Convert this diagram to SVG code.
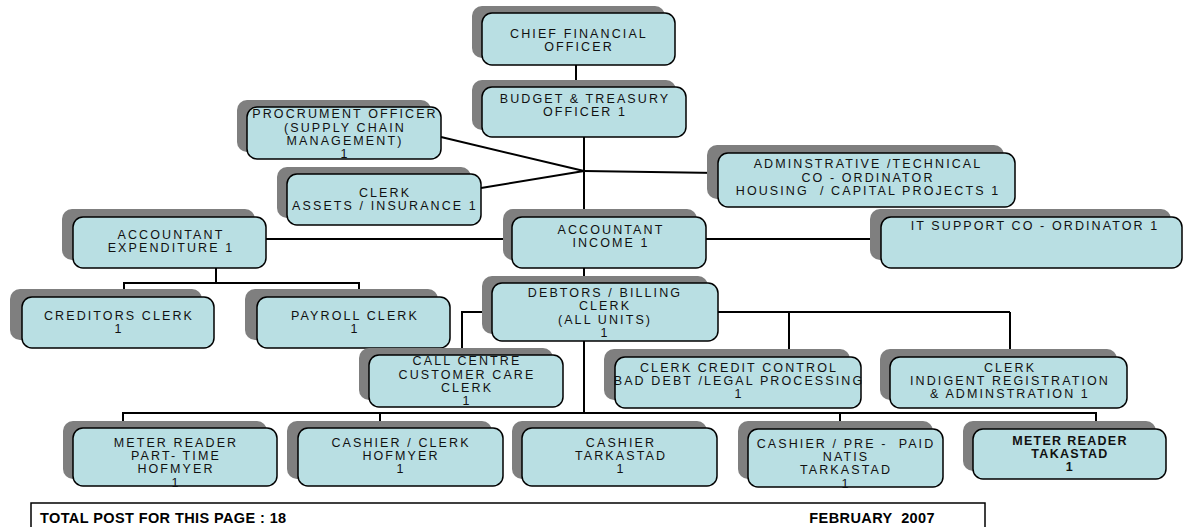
<svg xmlns="http://www.w3.org/2000/svg" width="1185" height="527" viewBox="0 0 1185 527">
  <style>
    .sh { fill: #7f7f7f; }
    .bx { fill: #b9dfe3; stroke: #000; stroke-width: 1.5; }
    .t { font-family: "Liberation Sans", Arial, sans-serif; font-size: 12.5px; letter-spacing: 2.1px; text-anchor: middle; fill: #111; white-space: pre; }
    .tb { font-weight: bold; letter-spacing: 1.3px; }
    .c { stroke: #000; stroke-width: 2; fill: none; }
    .ft { font-family: "Liberation Sans", Arial, sans-serif; font-size: 14.5px; font-weight: bold; letter-spacing: 0.4px; fill: #000; white-space: pre; }
  </style>

  <!-- connectors -->
  <g id="connectors" class="c">
    <path d="M576,65 V87"/>
    <path d="M584,137 V217"/>
    <path d="M441,137 L584,171"/>
    <path d="M481,188 L584,171"/>
    <path d="M584,171 L718,173"/>
    <path d="M266,239 H512"/>
    <path d="M706,239 H881"/>
    <path d="M216,268 V283 M124,297 V283 H359 V297"/>
    <path d="M584,268 V283"/>
    <path d="M492,312 H462 V355"/>
    <path d="M718,312 H1010 M789,312 V357 M1010,312 V357"/>
    <path d="M584,341 V413"/>
    <path d="M123,428 V413 H1096 V429 M380,413 V428 M840,413 V429"/>
  </g>

  <g id="cfo">
    <rect class="sh" x="472" y="6" width="193" height="52" rx="10"/>
    <rect class="bx" x="482" y="13" width="193" height="52" rx="10"/>
    <text class="t"><tspan x="579" y="38">CHIEF FINANCIAL</tspan><tspan x="579" y="51">OFFICER</tspan></text>
  </g>

  <g id="budget-treasury">
    <rect class="sh" x="472" y="80" width="204" height="50" rx="10"/>
    <rect class="bx" x="482" y="87" width="204" height="50" rx="10"/>
    <text class="t"><tspan x="585" y="103">BUDGET &amp; TREASURY</tspan><tspan x="585" y="116">OFFICER 1</tspan></text>
  </g>

  <g id="procurement">
    <rect class="sh" x="237" y="100" width="194" height="52" rx="10"/>
    <rect class="bx" x="247" y="107" width="194" height="52" rx="10"/>
    <text class="t"><tspan x="345" y="118">PROCRUMENT OFFICER</tspan><tspan x="345" y="132">(SUPPLY CHAIN</tspan><tspan x="345" y="145">MANAGEMENT)</tspan><tspan x="345" y="158">1</tspan></text>
  </g>

  <g id="clerk-assets">
    <rect class="sh" x="277" y="167" width="194" height="51" rx="10"/>
    <rect class="bx" x="287" y="174" width="194" height="51" rx="10"/>
    <text class="t"><tspan x="385" y="197">CLERK</tspan><tspan x="385" y="210">ASSETS / INSURANCE 1</tspan></text>
  </g>

  <g id="admin-technical">
    <rect class="sh" x="707" y="145" width="297" height="54" rx="10"/>
    <rect class="bx" x="718" y="153" width="297" height="54" rx="10"/>
    <text class="t"><tspan x="868" y="168">ADMINSTRATIVE /TECHNICAL</tspan><tspan x="868" y="182">CO - ORDINATOR</tspan><tspan x="868" y="195">HOUSING  / CAPITAL PROJECTS 1</tspan></text>
  </g>

  <g id="accountant-expenditure">
    <rect class="sh" x="62" y="209" width="193" height="51" rx="10"/>
    <rect class="bx" x="73" y="217" width="193" height="51" rx="10"/>
    <text class="t"><tspan x="171" y="239">ACCOUNTANT</tspan><tspan x="171" y="252">EXPENDITURE 1</tspan></text>
  </g>

  <g id="accountant-income">
    <rect class="sh" x="503" y="209" width="194" height="51" rx="10"/>
    <rect class="bx" x="512" y="217" width="194" height="51" rx="10"/>
    <text class="t"><tspan x="611" y="234">ACCOUNTANT</tspan><tspan x="611" y="247">INCOME 1</tspan></text>
  </g>

  <g id="it-support">
    <rect class="sh" x="870" y="209" width="301" height="51" rx="10"/>
    <rect class="bx" x="881" y="217" width="301" height="51" rx="10"/>
    <text class="t"><tspan x="1035" y="230">IT SUPPORT CO - ORDINATOR 1</tspan></text>
  </g>

  <g id="creditors-clerk">
    <rect class="sh" x="10" y="289" width="192" height="51" rx="10"/>
    <rect class="bx" x="22" y="297" width="192" height="51" rx="10"/>
    <text class="t"><tspan x="119" y="320">CREDITORS CLERK</tspan><tspan x="119" y="333">1</tspan></text>
  </g>

  <g id="payroll-clerk">
    <rect class="sh" x="245" y="289" width="193" height="51" rx="10"/>
    <rect class="bx" x="257" y="297" width="193" height="51" rx="10"/>
    <text class="t"><tspan x="355" y="320">PAYROLL CLERK</tspan><tspan x="355" y="333">1</tspan></text>
  </g>

  <g id="debtors-billing">
    <rect class="sh" x="482" y="276" width="226" height="58" rx="10"/>
    <rect class="bx" x="492" y="283" width="226" height="58" rx="10"/>
    <text class="t"><tspan x="605" y="297">DEBTORS / BILLING</tspan><tspan x="605" y="310">CLERK</tspan><tspan x="605" y="323.5">(ALL UNITS)</tspan><tspan x="605" y="336.5">1</tspan></text>
  </g>

  <g id="call-centre">
    <rect class="sh" x="359" y="348" width="194" height="52" rx="10"/>
    <rect class="bx" x="369" y="355" width="194" height="52" rx="10"/>
    <text class="t"><tspan x="467" y="365">CALL CENTRE</tspan><tspan x="467" y="378.5">CUSTOMER CARE</tspan><tspan x="467" y="392">CLERK</tspan><tspan x="467" y="405">1</tspan></text>
  </g>

  <g id="credit-control">
    <rect class="sh" x="604" y="349" width="246" height="51" rx="10"/>
    <rect class="bx" x="615" y="357" width="246" height="51" rx="10"/>
    <text class="t"><tspan x="739" y="372">CLERK CREDIT CONTROL</tspan><tspan x="739" y="385">BAD DEBT /LEGAL PROCESSING</tspan><tspan x="739" y="398">1</tspan></text>
  </g>

  <g id="indigent-registration">
    <rect class="sh" x="880" y="349" width="237" height="51" rx="10"/>
    <rect class="bx" x="890" y="357" width="237" height="51" rx="10"/>
    <text class="t"><tspan x="1010" y="372">CLERK</tspan><tspan x="1010" y="385">INDIGENT REGISTRATION</tspan><tspan x="1010" y="398">&amp; ADMINSTRATION 1</tspan></text>
  </g>

  <g id="meter-reader-hofmyer">
    <rect class="sh" x="63" y="421" width="204" height="58" rx="10"/>
    <rect class="bx" x="73" y="428" width="204" height="58" rx="10"/>
    <text class="t"><tspan x="176" y="447">METER READER</tspan><tspan x="176" y="460">PART- TIME</tspan><tspan x="176" y="473">HOFMYER</tspan><tspan x="176" y="487">1</tspan></text>
  </g>

  <g id="cashier-clerk-hofmyer">
    <rect class="sh" x="287" y="421" width="205" height="58" rx="10"/>
    <rect class="bx" x="298" y="428" width="205" height="58" rx="10"/>
    <text class="t"><tspan x="401" y="447">CASHIER / CLERK</tspan><tspan x="401" y="460">HOFMYER</tspan><tspan x="401" y="473">1</tspan></text>
  </g>

  <g id="cashier-tarkastad">
    <rect class="sh" x="512" y="421" width="195" height="58" rx="10"/>
    <rect class="bx" x="522" y="428" width="195" height="58" rx="10"/>
    <text class="t"><tspan x="621" y="447">CASHIER</tspan><tspan x="621" y="460">TARKASTAD</tspan><tspan x="621" y="473">1</tspan></text>
  </g>

  <g id="cashier-prepaid">
    <rect class="sh" x="738" y="421" width="195" height="58" rx="10"/>
    <rect class="bx" x="748" y="429" width="195" height="58" rx="10"/>
    <text class="t"><tspan x="846" y="448">CASHIER / PRE -  PAID</tspan><tspan x="846" y="461">NATIS</tspan><tspan x="846" y="474">TARKASTAD</tspan><tspan x="846" y="488">1</tspan></text>
  </g>

  <g id="meter-reader-takastad">
    <rect class="sh" x="963" y="421" width="193" height="50" rx="10"/>
    <rect class="bx" x="973" y="429" width="193" height="50" rx="10"/>
    <text class="t tb"><tspan x="1070" y="445">METER READER</tspan><tspan x="1070" y="458">TAKASTAD</tspan><tspan x="1070" y="471">1</tspan></text>
  </g>

  <!-- page footer -->
  <g id="footer">
    <rect x="31" y="503" width="954" height="40" fill="#fff" stroke="#000" stroke-width="1.5"/>
    <text class="ft" x="40" y="523">TOTAL POST FOR THIS PAGE : 18</text>
    <text class="ft" x="935" y="523" text-anchor="end">FEBRUARY  2007</text>
  </g>
</svg>
